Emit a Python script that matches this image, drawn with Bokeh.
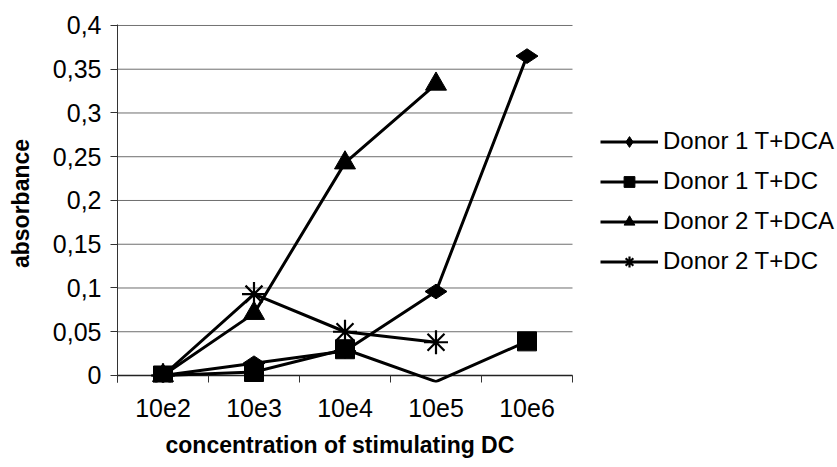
from bokeh.plotting import figure
from bokeh.models import (Range1d, FixedTicker, CustomJSTickFormatter,
                          Legend, LegendItem, Title)
from bokeh.embed import file_html
from bokeh.resources import INLINE

# ---- data ----
categories = ["10e2", "10e3", "10e4", "10e5", "10e6"]
donor1_tdca = [0.0, 0.014, 0.028, 0.096, 0.365]
donor1_tdc = [0.0, 0.004, 0.030, -0.007, 0.039]
donor2_tdca = [0.0, 0.071, 0.243, 0.333]
donor2_tdc = [0.0, 0.093, 0.050, 0.038]
y_ticks = [0.0, 0.05, 0.10, 0.15, 0.20, 0.25, 0.30, 0.35, 0.40]
y_tick_labels = ["0", "0,05", "0,1", "0,15", "0,2", "0,25", "0,3", "0,35", "0,4"]
x_title = "concentration of stimulating DC"
y_title = "absorbance"

series = [
    ("Donor 1 T+DCA", donor1_tdca, dict(marker="diamond", size=22, angle=1.5707963)),
    ("Donor 1 T+DC", donor1_tdc, dict(marker="square", size=19)),
    ("Donor 2 T+DCA", donor2_tdca, dict(marker="triangle", size=21)),
    ("Donor 2 T+DC", donor2_tdc, dict(marker="asterisk", size=24)),
]

FONT = "Liberation Sans"
n = len(categories)
# plot area spans 455 px for the categories; the frame continues to the right edge (legend area)
x_end = n * (837 - 117) / 455.0

p = figure(width=837, height=467, output_backend="svg", toolbar_location=None,
           x_range=Range1d(0, x_end), y_range=Range1d(-0.008, 0.4011),
           min_border_left=117, min_border_right=0, min_border_top=24,
           min_border_bottom=84)
p.outline_line_color = None
p.background_fill_color = "white"
p.border_fill_color = "white"
p.grid.visible = False

# horizontal grid lines limited to the category area
p.segment(x0=[0] * len(y_ticks), x1=[n] * len(y_ticks), y0=y_ticks, y1=y_ticks,
          line_color="#6e6e6e", line_width=1)
# x axis line at 0
p.segment(x0=[0], x1=[n], y0=[0], y1=[0], line_color="#222222", line_width=1.3)

# y axis
ya = p.yaxis[0]
ya.ticker = FixedTicker(ticks=y_ticks, minor_ticks=[])
ya.formatter = CustomJSTickFormatter(args=dict(labels=y_tick_labels),
                                     code="return labels[Math.round(tick/0.05)];")
ya.major_tick_in = 0
ya.major_tick_out = 7
ya.minor_tick_out = 0
ya.major_tick_line_color = "#333333"
ya.axis_line_color = "#333333"
ya.major_label_standoff = 9
ya.major_label_text_font = FONT
ya.major_label_text_font_size = "25px"
ya.major_label_text_color = "black"
ya.axis_label = y_title
ya.axis_label_text_font = FONT
ya.axis_label_text_font_style = "bold"
ya.axis_label_text_font_size = "23px"
ya.axis_label_text_color = "black"
ya.axis_label_standoff = 16

# x axis
xa = p.xaxis[0]
xa.bounds = (0, n)
xa.ticker = FixedTicker(ticks=[i + 0.5 for i in range(n)],
                        minor_ticks=list(range(n + 1)))
xa.formatter = CustomJSTickFormatter(args=dict(labels=categories),
                                     code="return labels[Math.round(tick - 0.5)];")
xa.axis_line_color = None
xa.major_tick_in = 0
xa.major_tick_out = 0
xa.minor_tick_in = 7
xa.minor_tick_out = 0
xa.minor_tick_line_color = "#333333"
xa.major_label_standoff = 16
xa.major_label_text_font = FONT
xa.major_label_text_font_size = "25px"
xa.major_label_text_color = "black"

# x-axis title as a below-panel title, left-aligned over the category area
p.add_layout(Title(text=x_title, align="left", offset=48, standoff=20,
                   text_font=FONT, text_font_style="bold", text_font_size="23px",
                   text_color="black"), "below")

items = []
for name, vals, mk in series:
    xs = [i + 0.5 for i in range(len(vals))]
    lr = p.line(xs, vals, line_color="black", line_width=3)
    mx = [x for x, v in zip(xs, vals) if v >= 0]
    my = [v for v in vals if v >= 0]
    kw = dict(mk)
    if kw["marker"] == "asterisk":
        sr = p.scatter(mx, my, line_color="black", line_width=2.2, fill_color="black", **kw)
    else:
        sr = p.scatter(mx, my, line_color="black", fill_color="black", **kw)
    items.append(LegendItem(label=name, renderers=[lr, sr]))

legend = Legend(items=items, location=(483, 107), border_line_color=None,
                background_fill_alpha=0, padding=0, margin=0, spacing=12,
                glyph_height=27, label_height=27, glyph_width=58, label_standoff=5,
                label_text_font=FONT, label_text_font_size="24px",
                label_text_color="black")
p.add_layout(legend)

open("out.html", "w").write(file_html(p, INLINE))
